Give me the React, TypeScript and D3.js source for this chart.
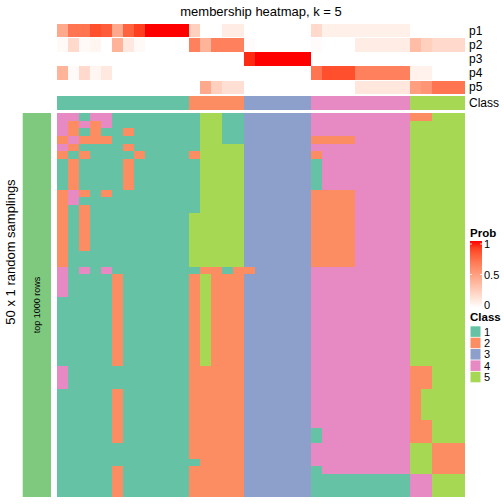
import React from "react";
import * as d3 from "d3";

// ---- data ----
const classIds = ["1", "2", "3", "4", "5"];
const classColors = ["#66C2A5", "#FC8D62", "#8DA0CB", "#E78AC3", "#A6D854"];
const annNames = ["p1", "p2", "p3", "p4", "p5"];

// consensus class of each column (37 columns)
const columnClass = "111111111111 22222 333333 444444444 55555";

// membership probabilities per column
const p1 = [0.45, 0.7, 0.7, 0.85, 0.8, 0.45, 0.78, 0.9, 1, 1, 1, 1, 0.25, 0, 0, 0.1, 0.1, 0, 0, 0, 0, 0, 0, 0.2, 0.08, 0.08, 0.08, 0.08, 0.08, 0.08, 0.08, 0.08, 0, 0, 0, 0, 0];
const p2 = [0.03, 0.2, 0.03, 0.05, 0, 0.4, 0.12, 0.03, 0, 0, 0, 0, 0.65, 0.4, 0.65, 0.65, 0.65, 0.02, 0, 0, 0, 0, 0, 0.02, 0, 0, 0, 0.1, 0.1, 0.1, 0.1, 0.1, 0.35, 0.25, 0.2, 0.2, 0.2];
const p3 = [0, 0, 0, 0, 0, 0, 0, 0, 0, 0, 0, 0, 0, 0, 0, 0, 0, 0.95, 1, 1, 1, 1, 1, 0, 0, 0, 0, 0, 0, 0, 0, 0, 0, 0, 0, 0, 0];
const p4 = [0.4, 0.03, 0.2, 0.05, 0.12, 0, 0, 0, 0, 0, 0, 0, 0, 0, 0, 0, 0, 0, 0, 0, 0, 0, 0, 0.7, 0.85, 0.85, 0.85, 0.65, 0.65, 0.65, 0.65, 0.65, 0.07, 0.07, 0, 0, 0];
const p5 = [0, 0, 0, 0, 0, 0, 0, 0, 0, 0, 0, 0, 0, 0.45, 0.25, 0.17, 0.17, 0, 0, 0, 0, 0, 0, 0, 0, 0, 0, 0.13, 0.13, 0.13, 0.13, 0.13, 0.5, 0.55, 0.7, 0.7, 0.7];

// class assigned in each of the 50 random samplings (rows) for each column
const samplingRows = [
  "44144111 1111 15511 3 33333 4 444 44444 22 555",
  "42424111 1111 15511 3 33333 4 444 44444 55 555",
  "42121121 1111 15511 3 33333 4 444 44444 55 555",
  "24222111 1111 15511 3 33333 2 222 44444 55 555",
  "42111121 1111 15555 3 33333 4 444 44444 55 555",
  "21211112 1111 25555 3 33333 2 444 44444 55 555",
  "12111121 1111 15555 3 33333 1 444 44444 55 555",
  "12111121 1111 15555 3 33333 1 444 44444 55 555",
  "12111121 1111 15555 3 33333 1 444 44444 55 555",
  "12111121 1111 15555 3 33333 1 444 44444 55 555",
  "24212111 1111 15555 3 33333 2 222 44444 55 555",
  "24111111 1111 15555 3 33333 2 222 44444 55 555",
  "21211111 1111 15555 3 33333 2 222 44444 55 555",
  "21211111 1111 55555 3 33333 2 222 44444 55 555",
  "21211111 1111 55555 3 33333 2 222 44444 55 555",
  "21211111 1111 55555 3 33333 2 222 44444 55 555",
  "21211111 1111 55555 3 33333 2 222 44444 55 555",
  "21211111 1111 55555 3 33333 2 222 44444 55 555",
  "21111111 1111 55555 3 33333 2 222 44444 55 555",
  "21111111 1111 55555 3 33333 2 222 44444 55 555",
  "41414111 1111 12212 2 33333 4 444 44444 55 555",
  "41111211 1111 25222 3 33333 4 444 44444 55 555",
  "41111211 1111 25222 3 33333 4 444 44444 55 555",
  "41111211 1111 25222 3 33333 4 444 44444 55 555",
  "11111211 1111 25222 3 33333 4 444 44444 55 555",
  "11111211 1111 25222 3 33333 4 444 44444 55 555",
  "11111211 1111 25222 3 33333 4 444 44444 55 555",
  "11111211 1111 25222 3 33333 4 444 44444 55 555",
  "11111211 1111 25222 3 33333 4 444 44444 55 555",
  "11111211 1111 25222 3 33333 4 444 44444 55 555",
  "11111211 1111 25222 3 33333 4 444 44444 55 555",
  "11111211 1111 25222 3 33333 4 444 44444 55 555",
  "11111211 1111 25222 3 33333 4 444 44444 55 555",
  "41111111 1111 22222 3 33333 4 444 44444 22 555",
  "41111111 1111 22222 3 33333 4 444 44444 22 555",
  "41111111 1111 22222 3 33333 4 444 44444 22 555",
  "11111211 1111 22222 3 33333 4 444 44444 25 555",
  "11111211 1111 22222 3 33333 4 444 44444 25 555",
  "11111211 1111 22222 3 33333 4 444 44444 25 555",
  "11111211 1111 22222 3 33333 4 444 44444 25 555",
  "11111211 1111 22222 3 33333 4 444 44444 22 555",
  "11111211 1111 22222 3 33333 1 444 44444 22 555",
  "11111211 1111 22222 3 33333 1 444 44444 22 555",
  "11111111 1111 22222 3 33333 4 444 44444 55 222",
  "11111111 1111 22222 3 33333 4 444 44444 55 222",
  "11111111 1111 12222 3 33333 4 444 44444 55 222",
  "11111211 1111 22222 3 33333 1 444 44444 55 222",
  "11111211 1111 22222 3 33333 1 111 11111 44 555",
  "11111211 1111 22222 3 33333 1 111 11111 44 555",
  "11111211 1111 22222 3 33333 1 111 11111 44 555",
];

const probTicks = [0, 0.5, 1];
const probTickLabels = ["0", "0.5", "1"];

export default function App() {
  const font = "'Liberation Sans', Arial, Helvetica, sans-serif";
  const matrix = samplingRows.map((r) => r.replace(/ /g, "").split(""));
  const colClass = columnClass.replace(/ /g, "").split("");
  const nCol = colClass.length;
  const nRow = matrix.length;

  const x = d3.scaleBand<number>().domain(d3.range(nCol)).range([57, 465]);
  const y = d3.scaleBand<number>().domain(d3.range(nRow)).range([113, 497]);
  const annY = d3.scaleBand<string>().domain(annNames).range([24, 94]).paddingInner(0.05);
  const classColor = d3.scaleOrdinal<string, string>().domain(classIds).range(classColors);
  const probColor = d3
    .scaleLinear<string>()
    .domain([0, 1])
    .range(["#FFFFFF", "#FF0000"])
    .interpolate(d3.interpolateLab);
  const probs = [p1, p2, p3, p4, p5];

  const legY = d3.scaleLinear().domain([0, 1]).range([305, 244]);
  const legClassY = d3.scaleBand<string>().domain(classIds).range([326.3, 382.3]).paddingInner(0.07);

  return (
    <svg
      width={504}
      height={504}
      style={{ position: "absolute", left: 0, top: 0, background: "#fff" }}
      fontFamily={font}
    >
      <defs>
        <linearGradient id="probGrad" x1="0" y1="1" x2="0" y2="0">
          {d3.range(0, 1.0001, 0.1).map((t) => (
            <stop key={t} offset={t} stopColor={probColor(t)} />
          ))}
        </linearGradient>
      </defs>
      <rect x={0} y={0} width={504} height={504} fill="#fff" />
      <text x={261} y={11} textAnchor="middle" dominantBaseline="central" fontSize={13}>
        membership heatmap, k = 5
      </text>

      {/* probability annotations */}
      <g shapeRendering="crispEdges">
        {probs.map((arr, k) =>
          arr.map((v, i) => (
            <rect
              key={`p${k}-${i}`}
              x={x(i)}
              y={annY(annNames[k])}
              width={x.bandwidth() + 0.3}
              height={annY.bandwidth()}
              fill={probColor(v)}
            />
          ))
        )}
        {colClass.map((c, i) => (
          <rect key={`cls-${i}`} x={x(i)} y={96} width={x.bandwidth() + 0.3} height={14} fill={classColor(c)} />
        ))}
      </g>
      {annNames.map((n) => (
        <text
          key={n}
          x={469}
          y={(annY(n) as number) + annY.bandwidth() / 2}
          dominantBaseline="central"
          fontSize={12}
        >
          {n}
        </text>
      ))}
      <text x={469} y={103} dominantBaseline="central" fontSize={12}>
        Class
      </text>

      {/* main heatmap */}
      <g shapeRendering="crispEdges">
        {matrix.map((row, r) =>
          row.map((c, i) => (
            <rect
              key={`${r}-${i}`}
              x={x(i)}
              y={y(r)}
              width={x.bandwidth() + 0.3}
              height={y.bandwidth() + 0.3}
              fill={classColor(c)}
            />
          ))
        )}
      </g>

      {/* row annotation */}
      <rect x={22.7} y={113} width={28.3} height={384} fill="#7FC97F" />
      <text
        transform={`translate(37,305) rotate(-90)`}
        textAnchor="middle"
        dominantBaseline="central"
        fontSize={9}
      >
        top 1000 rows
      </text>
      <text
        transform={`translate(10,252) rotate(-90)`}
        textAnchor="middle"
        dominantBaseline="central"
        fontSize={13}
      >
        50 x 1 random samplings
      </text>

      {/* Prob legend */}
      <text x={470} y={233} dominantBaseline="central" fontSize={11.5} fontWeight="bold">
        Prob
      </text>
      <rect x={470} y={241} width={12} height={67} fill="url(#probGrad)" />
      {probTicks.map((t, i) => (
        <g key={`pt${t}`}>
          <line x1={470} x2={472} y1={legY(t)} y2={legY(t)} stroke="#fff" strokeWidth={0.8} />
          <line x1={480} x2={482} y1={legY(t)} y2={legY(t)} stroke="#fff" strokeWidth={0.8} />
          <text x={484} y={legY(t)} dominantBaseline="central" fontSize={11}>
            {probTickLabels[i]}
          </text>
        </g>
      ))}

      {/* Class legend */}
      <text x={470} y={317} dominantBaseline="central" fontSize={11.5} fontWeight="bold">
        Class
      </text>
      {classIds.map((c) => (
        <g key={`lg${c}`}>
          <rect x={470.5} y={legClassY(c)} width={10} height={legClassY.bandwidth()} fill={classColor(c)} />
          <text
            x={484}
            y={(legClassY(c) as number) + legClassY.bandwidth() / 2}
            dominantBaseline="central"
            fontSize={11}
          >
            {c}
          </text>
        </g>
      ))}
    </svg>
  );
}
